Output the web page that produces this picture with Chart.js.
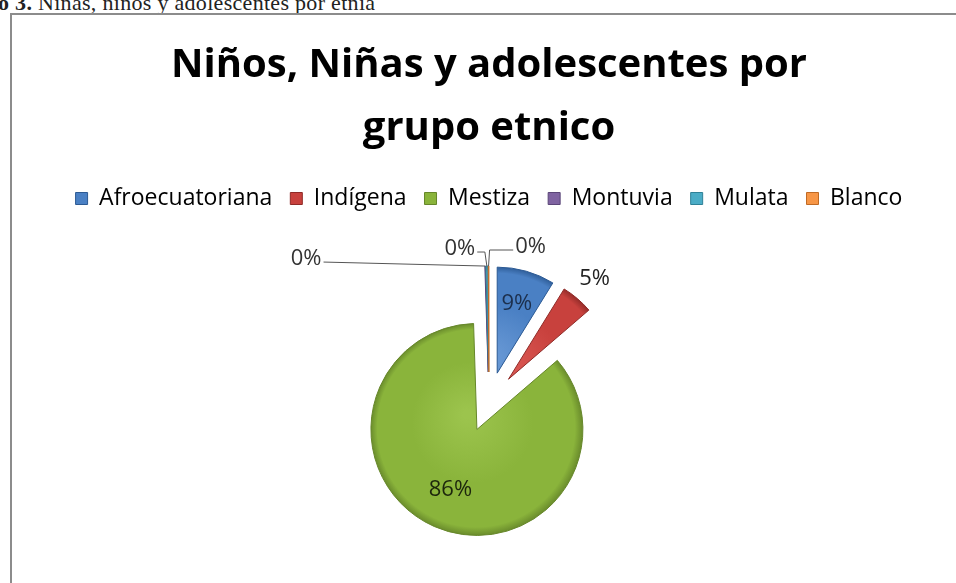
<!DOCTYPE html>
<html>
<head>
<meta charset="utf-8">
<title>Niños, Niñas y adolescentes por grupo etnico</title>
<script src="https://cdn.jsdelivr.net/npm/chart.js@4.4.0/dist/chart.umd.min.js"></script>
<style>
    html, body { margin: 0; padding: 0; background: #fff; width: 956px; height: 583px; overflow: hidden; }
    #caption { position: absolute; left: -2px; top: -10px; font-family: "Liberation Serif", serif; font-size: 22px; letter-spacing: 0.3px; color: #222; white-space: nowrap; }
    #frame { position: absolute; left: 10px; top: 13px; width: 960px; height: 600px; border-left: 2px solid #8c8c8c; border-top: 2px solid #8c8c8c; }
    #pie-chart-area { position: absolute; left: 0; top: 0; }
</style>
</head>
<body>
<div id="caption"><b>o 3.</b> Niñas, niños y adolescentes por etnia</div>
<div id="frame"><canvas id="pie-chart-area" width="954" height="598"></canvas></div>
<script>
var chartTitle = ['Niños, Niñas y adolescentes por', 'grupo etnico'];
var arrLabel = ['Afroecuatoriana', 'Indígena', 'Mestiza', 'Montuvia', 'Mulata', 'Blanco'];
// percent of children per group, the last three are shown as 0%
var arrData = [8.8, 4.9, 85.8, 0.1, 0.3, 0.1];

var arrColor = ['#4a80c4', '#c8413d', '#8ab43b', '#7f63a1', '#4bacc6', '#f79646'];
var arrLight = ['#6a9ad6', '#dc5a55', '#9cc44d', '#9a80bb', '#79c6da', '#fbb57e'];
var arrDark = ['#2c5a94', '#8f2a27', '#66872a', '#5b4678', '#2f8197', '#c06a24'];
var arrText = ['#1c2f4d', '#222222', '#1c260c', '#333333', '#333333', '#333333'];

var pieRadius = 106;
var sliceOffset = 30;

// where Excel put each data label: inside/outside along the slice, or moved by hand with a leader line
var labelPlace = [
    {r: 0.68},
    {r: 1.25},
    {r: 0.62},
    {dx: -179, dy: -7, side: 'left'},
    {dx: -27, dy: -17, side: 'left'},
    {dx: 42, dy: -19, side: 'right'}
];

function sliceFill(context) {
    var i = context.dataIndex;
    var chart = context.chart;
    var area = chart.chartArea;
    if (!area) {
        return arrColor[i];
    }
    var cx = (area.left + area.right) / 2;
    var cy = (area.top + area.bottom) / 2;
    var g = chart.ctx.createRadialGradient(cx - 10, cy - 15, 4, cx, cy, pieRadius + 1);
    g.addColorStop(0, arrLight[i]);
    g.addColorStop(0.55, arrColor[i]);
    g.addColorStop(0.92, arrColor[i]);
    g.addColorStop(1, arrDark[i]);
    return g;
}

// every slice pulled out from the centre by the same distance, like the exploded Excel pie
var explodePlugin = {
    id: 'explode',
    beforeDatasetsDraw: function (chart) {
        chart.getDatasetMeta(0).data.forEach(function (arc) {
            if (arc.exploded) {
                return;
            }
            var draw = arc.draw;
            arc.draw = function (ctx, area) {
                var mid = (this.startAngle + this.endAngle) / 2;
                ctx.save();
                ctx.translate(Math.cos(mid) * sliceOffset, Math.sin(mid) * sliceOffset);
                draw.call(this, ctx, area);
                ctx.restore();
            };
            arc.exploded = true;
        });
    }
};

var labelPlugin = {
    id: 'sliceLabels',
    afterDatasetsDraw: function (chart) {
        var ctx = chart.ctx;
        var meta = chart.getDatasetMeta(0);
        var total = 0;
        for (var k = 0; k < arrData.length; k++) {
            total += arrData[k];
        }
        ctx.save();
        ctx.font = '22px "Open Sans"';
        ctx.textAlign = 'center';
        ctx.textBaseline = 'middle';
        meta.data.forEach(function (arc, i) {
            var p = arc.getProps(['x', 'y', 'startAngle', 'endAngle', 'outerRadius'], true);
            var mid = (p.startAngle + p.endAngle) / 2;
            var cx = p.x + Math.cos(mid) * sliceOffset;
            var cy = p.y + Math.sin(mid) * sliceOffset;
            var txt = Math.round(100 * arrData[i] / total) + '%';
            var place = labelPlace[i];
            ctx.fillStyle = arrText[i];
            if (place.r) {
                ctx.fillText(txt, cx + Math.cos(mid) * p.outerRadius * place.r, cy + Math.sin(mid) * p.outerRadius * place.r);
                return;
            }
            var ex = cx + Math.cos(mid) * p.outerRadius;
            var ey = cy + Math.sin(mid) * p.outerRadius;
            var tx = ex + place.dx;
            var ty = ey + place.dy;
            var half = ctx.measureText(txt).width / 2;
            ctx.fillText(txt, tx, ty);
            ctx.strokeStyle = '#555555';
            ctx.lineWidth = 1;
            ctx.beginPath();
            ctx.moveTo(ex, ey);
            if (place.side === 'left') {
                if (place.dx > -60) {
                    ctx.lineTo(ex - 2, ty + 3);
                }
                ctx.lineTo(tx + half + 2, ty + 3);
            } else {
                ctx.lineTo(ex + 1, ty + 3);
                ctx.lineTo(tx - half - 2, ty + 3);
            }
            ctx.stroke();
        });
        ctx.restore();
    }
};

function renderPie() {
    var configPie = {
        type: 'pie',
        data: {
            labels: arrLabel,
            datasets: [{
                data: arrData,
                backgroundColor: sliceFill,
                borderColor: arrDark,
                borderWidth: 1
            }]
        },
        options: {
            responsive: false,
            animation: false,
            radius: pieRadius,
            layout: {
                padding: {top: 19, bottom: 29, left: 0, right: 0}
            },
            plugins: {
                title: {
                    display: true,
                    text: chartTitle,
                    color: '#000000',
                    font: {family: 'Open Sans', size: 40, weight: 'bold', lineHeight: 1.575},
                    padding: {top: 0, bottom: 9}
                },
                legend: {
                    position: 'top',
                    labels: {
                        color: '#000000',
                        font: {family: 'Open Sans', size: 23},
                        boxWidth: 12,
                        boxHeight: 12,
                        padding: 18,
                        generateLabels: function (chart) {
                            var items = Chart.overrides.pie.plugins.legend.labels.generateLabels(chart);
                            items.forEach(function (it) {
                                it.fillStyle = arrColor[it.index];
                                it.strokeStyle = arrDark[it.index];
                                it.lineWidth = 1;
                            });
                            return items;
                        }
                    }
                },
                tooltip: {enabled: false}
            }
        },
        plugins: [explodePlugin, labelPlugin]
    };
    var ctxPie = document.getElementById('pie-chart-area').getContext('2d');
    var myPie = new Chart(ctxPie, configPie);
}

renderPie();
</script>
</body>
</html>
